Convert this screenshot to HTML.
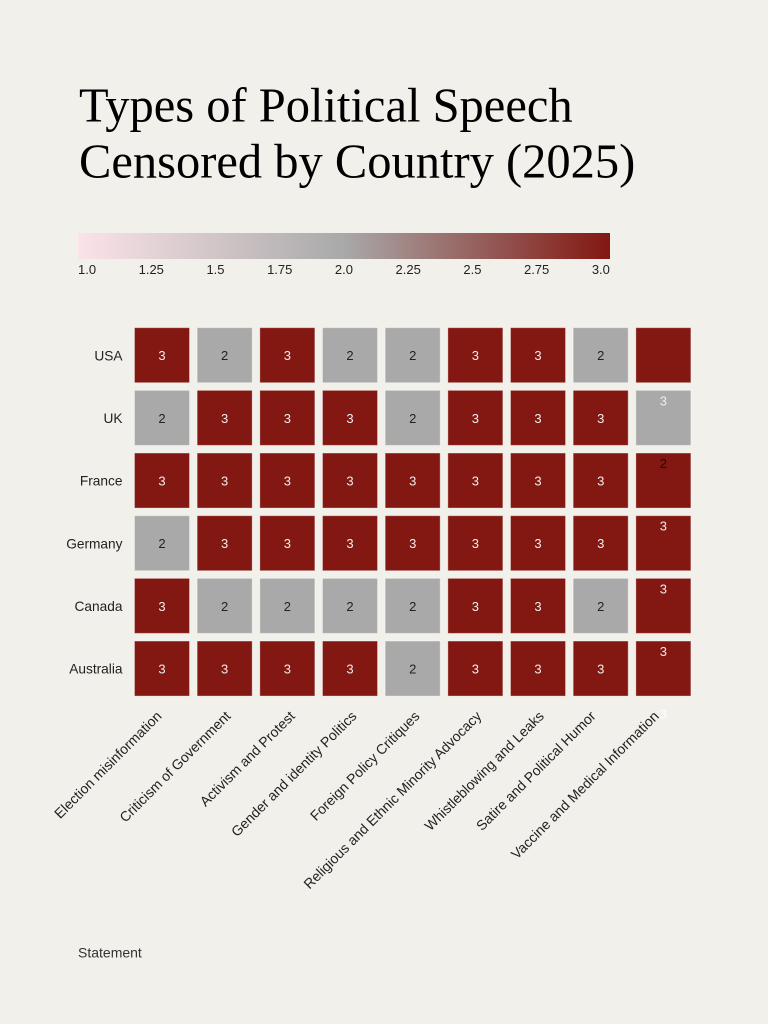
<!DOCTYPE html>
<html>
<head>
<meta charset="utf-8">
<style>
  html,body{margin:0;padding:0;background:#f2f0eb;}
  body{width:768px;height:1024px;position:relative;overflow:hidden;font-family:"Liberation Sans",Arial,sans-serif;}
  .ticks{position:absolute;left:78px;top:262px;width:532px;display:flex;justify-content:space-between;font-size:13px;color:#222;line-height:16px;}
</style>
</head>
<body>
<svg width="768" height="1024" viewBox="0 0 768 1024" xmlns="http://www.w3.org/2000/svg" style="position:absolute;left:0;top:0">
  <defs>
    <linearGradient id="cb" x1="0" y1="0" x2="1" y2="0">
      <stop offset="0" stop-color="#fbe3e8"/>
      <stop offset="0.5" stop-color="#a9a9a9"/>
      <stop offset="1" stop-color="#831711"/>
    </linearGradient>
  </defs>
  <rect width="768" height="1024" fill="#f2f0eb"/>
  <g font-family="'Liberation Serif','Times New Roman',serif" font-size="48.5" fill="#000">
    <text x="79" y="121.5">Types of Political Speech</text>
    <text x="79" y="177.5">Censored by Country (2025)</text>
  </g>
  <rect x="78" y="233" width="532" height="26" fill="url(#cb)"/>

  <g font-family="'Liberation Sans',Arial,sans-serif" font-size="13.7" fill="#222" text-anchor="end">
    <text x="122.5" y="360.3">USA</text>
    <text x="122.5" y="423">UK</text>
    <text x="122.5" y="485.6">France</text>
    <text x="122.5" y="548.3">Germany</text>
    <text x="122.5" y="611">Canada</text>
    <text x="122.5" y="673.6">Australia</text>
  </g>

  <g stroke="#ffffff" stroke-opacity="0.35" stroke-width="1">
    <!-- USA -->
    <rect x="134.5" y="327.7" width="55" height="55" fill="#831711"/>
    <rect x="197.17" y="327.7" width="55" height="55" fill="#a9a9a9"/>
    <rect x="259.84" y="327.7" width="55" height="55" fill="#831711"/>
    <rect x="322.51" y="327.7" width="55" height="55" fill="#a9a9a9"/>
    <rect x="385.18" y="327.7" width="55" height="55" fill="#a9a9a9"/>
    <rect x="447.85" y="327.7" width="55" height="55" fill="#831711"/>
    <rect x="510.52" y="327.7" width="55" height="55" fill="#831711"/>
    <rect x="573.19" y="327.7" width="55" height="55" fill="#a9a9a9"/>
    <rect x="635.86" y="327.7" width="55" height="55" fill="#831711"/>
    <!-- UK -->
    <rect x="134.5" y="390.37" width="55" height="55" fill="#a9a9a9"/>
    <rect x="197.17" y="390.37" width="55" height="55" fill="#831711"/>
    <rect x="259.84" y="390.37" width="55" height="55" fill="#831711"/>
    <rect x="322.51" y="390.37" width="55" height="55" fill="#831711"/>
    <rect x="385.18" y="390.37" width="55" height="55" fill="#a9a9a9"/>
    <rect x="447.85" y="390.37" width="55" height="55" fill="#831711"/>
    <rect x="510.52" y="390.37" width="55" height="55" fill="#831711"/>
    <rect x="573.19" y="390.37" width="55" height="55" fill="#831711"/>
    <rect x="635.86" y="390.37" width="55" height="55" fill="#a9a9a9"/>
    <!-- France -->
    <rect x="134.5" y="453.04" width="55" height="55" fill="#831711"/>
    <rect x="197.17" y="453.04" width="55" height="55" fill="#831711"/>
    <rect x="259.84" y="453.04" width="55" height="55" fill="#831711"/>
    <rect x="322.51" y="453.04" width="55" height="55" fill="#831711"/>
    <rect x="385.18" y="453.04" width="55" height="55" fill="#831711"/>
    <rect x="447.85" y="453.04" width="55" height="55" fill="#831711"/>
    <rect x="510.52" y="453.04" width="55" height="55" fill="#831711"/>
    <rect x="573.19" y="453.04" width="55" height="55" fill="#831711"/>
    <rect x="635.86" y="453.04" width="55" height="55" fill="#831711"/>
    <!-- Germany -->
    <rect x="134.5" y="515.71" width="55" height="55" fill="#a9a9a9"/>
    <rect x="197.17" y="515.71" width="55" height="55" fill="#831711"/>
    <rect x="259.84" y="515.71" width="55" height="55" fill="#831711"/>
    <rect x="322.51" y="515.71" width="55" height="55" fill="#831711"/>
    <rect x="385.18" y="515.71" width="55" height="55" fill="#831711"/>
    <rect x="447.85" y="515.71" width="55" height="55" fill="#831711"/>
    <rect x="510.52" y="515.71" width="55" height="55" fill="#831711"/>
    <rect x="573.19" y="515.71" width="55" height="55" fill="#831711"/>
    <rect x="635.86" y="515.71" width="55" height="55" fill="#831711"/>
    <!-- Canada -->
    <rect x="134.5" y="578.38" width="55" height="55" fill="#831711"/>
    <rect x="197.17" y="578.38" width="55" height="55" fill="#a9a9a9"/>
    <rect x="259.84" y="578.38" width="55" height="55" fill="#a9a9a9"/>
    <rect x="322.51" y="578.38" width="55" height="55" fill="#a9a9a9"/>
    <rect x="385.18" y="578.38" width="55" height="55" fill="#a9a9a9"/>
    <rect x="447.85" y="578.38" width="55" height="55" fill="#831711"/>
    <rect x="510.52" y="578.38" width="55" height="55" fill="#831711"/>
    <rect x="573.19" y="578.38" width="55" height="55" fill="#a9a9a9"/>
    <rect x="635.86" y="578.38" width="55" height="55" fill="#831711"/>
    <!-- Australia -->
    <rect x="134.5" y="641.05" width="55" height="55" fill="#831711"/>
    <rect x="197.17" y="641.05" width="55" height="55" fill="#831711"/>
    <rect x="259.84" y="641.05" width="55" height="55" fill="#831711"/>
    <rect x="322.51" y="641.05" width="55" height="55" fill="#831711"/>
    <rect x="385.18" y="641.05" width="55" height="55" fill="#a9a9a9"/>
    <rect x="447.85" y="641.05" width="55" height="55" fill="#831711"/>
    <rect x="510.52" y="641.05" width="55" height="55" fill="#831711"/>
    <rect x="573.19" y="641.05" width="55" height="55" fill="#831711"/>
    <rect x="635.86" y="641.05" width="55" height="55" fill="#831711"/>
  </g>

  <g font-family="'Liberation Sans',Arial,sans-serif" font-size="13" text-anchor="middle">
    <!-- USA -->
    <text x="162" y="360.2" fill="#eee">3</text>
    <text x="224.67" y="360.2" fill="#222">2</text>
    <text x="287.34" y="360.2" fill="#eee">3</text>
    <text x="350.01" y="360.2" fill="#222">2</text>
    <text x="412.68" y="360.2" fill="#222">2</text>
    <text x="475.35" y="360.2" fill="#eee">3</text>
    <text x="538.02" y="360.2" fill="#eee">3</text>
    <text x="600.69" y="360.2" fill="#222">2</text>
    <!-- UK -->
    <text x="162" y="422.9" fill="#222">2</text>
    <text x="224.67" y="422.9" fill="#eee">3</text>
    <text x="287.34" y="422.9" fill="#eee">3</text>
    <text x="350.01" y="422.9" fill="#eee">3</text>
    <text x="412.68" y="422.9" fill="#222">2</text>
    <text x="475.35" y="422.9" fill="#eee">3</text>
    <text x="538.02" y="422.9" fill="#eee">3</text>
    <text x="600.69" y="422.9" fill="#eee">3</text>
    <!-- France -->
    <text x="162" y="485.5" fill="#eee">3</text>
    <text x="224.67" y="485.5" fill="#eee">3</text>
    <text x="287.34" y="485.5" fill="#eee">3</text>
    <text x="350.01" y="485.5" fill="#eee">3</text>
    <text x="412.68" y="485.5" fill="#eee">3</text>
    <text x="475.35" y="485.5" fill="#eee">3</text>
    <text x="538.02" y="485.5" fill="#eee">3</text>
    <text x="600.69" y="485.5" fill="#eee">3</text>
    <!-- Germany -->
    <text x="162" y="548.2" fill="#222">2</text>
    <text x="224.67" y="548.2" fill="#eee">3</text>
    <text x="287.34" y="548.2" fill="#eee">3</text>
    <text x="350.01" y="548.2" fill="#eee">3</text>
    <text x="412.68" y="548.2" fill="#eee">3</text>
    <text x="475.35" y="548.2" fill="#eee">3</text>
    <text x="538.02" y="548.2" fill="#eee">3</text>
    <text x="600.69" y="548.2" fill="#eee">3</text>
    <!-- Canada -->
    <text x="162" y="610.9" fill="#eee">3</text>
    <text x="224.67" y="610.9" fill="#222">2</text>
    <text x="287.34" y="610.9" fill="#222">2</text>
    <text x="350.01" y="610.9" fill="#222">2</text>
    <text x="412.68" y="610.9" fill="#222">2</text>
    <text x="475.35" y="610.9" fill="#eee">3</text>
    <text x="538.02" y="610.9" fill="#eee">3</text>
    <text x="600.69" y="610.9" fill="#222">2</text>
    <!-- Australia -->
    <text x="162" y="673.5" fill="#eee">3</text>
    <text x="224.67" y="673.5" fill="#eee">3</text>
    <text x="287.34" y="673.5" fill="#eee">3</text>
    <text x="350.01" y="673.5" fill="#eee">3</text>
    <text x="412.68" y="673.5" fill="#222">2</text>
    <text x="475.35" y="673.5" fill="#eee">3</text>
    <text x="538.02" y="673.5" fill="#eee">3</text>
    <text x="600.69" y="673.5" fill="#eee">3</text>
    <!-- last column (offset labels) -->
    <text x="663.36" y="405.4" fill="#eee">3</text>
    <text x="663.36" y="468" fill="#111">2</text>
    <text x="663.36" y="530.7" fill="#eee">3</text>
    <text x="663.36" y="593.4" fill="#eee">3</text>
    <text x="663.36" y="656" fill="#eee">3</text>
    <text x="663.36" y="718.7" fill="#fff">3</text>
  </g>

  <g font-family="'Liberation Sans',Arial,sans-serif" font-size="14" fill="#222" text-anchor="end">
    <text transform="translate(162.5,717) rotate(-45)">Election misinformation</text>
    <text transform="translate(231.5,717) rotate(-45)">Criticism of Government</text>
    <text transform="translate(295.8,717) rotate(-45)">Activism and Protest</text>
    <text transform="translate(357.5,717) rotate(-45)">Gender and identity Politics</text>
    <text transform="translate(420.5,717) rotate(-45)">Foreign Policy Critiques</text>
    <text transform="translate(482.3,717) rotate(-45)">Religious and Ethnic Minority Advocacy</text>
    <text transform="translate(544.8,717) rotate(-45)">Whistleblowing and Leaks</text>
    <text transform="translate(596.5,717) rotate(-45)">Satire and Political Humor</text>
    <text transform="translate(659.8,717) rotate(-45)">Vaccine and Medical Information</text>
  </g>

  <text x="78" y="957.5" font-family="'Liberation Sans',Arial,sans-serif" font-size="14" fill="#333">Statement</text>
</svg>
<div class="ticks">
  <span>1.0</span><span>1.25</span><span>1.5</span><span>1.75</span><span>2.0</span><span>2.25</span><span>2.5</span><span>2.75</span><span>3.0</span>
</div>
</body>
</html>
